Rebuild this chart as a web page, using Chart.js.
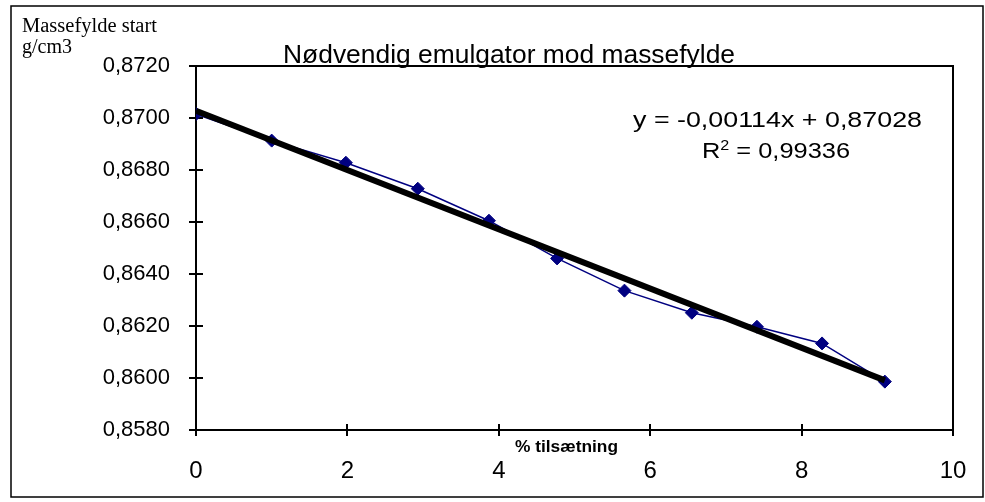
<!DOCTYPE html>
<html>
<head>
<meta charset="utf-8">
<script src="https://cdn.jsdelivr.net/npm/chart.js@4.4.1/dist/chart.umd.min.js"></script>
<style>
  html, body { margin: 0; padding: 0; background: #fff; }
  #chartContainer { width: 985px; height: 502px; }
</style>
</head>
<body>
<div id="chartContainer"><canvas id="emulgatorChart"></canvas></div>
<script>
// data
const tilsaetning = [0, 1.0, 1.98, 2.93, 3.87, 4.77, 5.66, 6.55, 7.41, 8.27, 9.10];
const massefylde = [0.87015, 0.86913, 0.86828, 0.86728, 0.86605, 0.86460, 0.86336, 0.86251, 0.86197, 0.86133, 0.85986];
const trendX = [0, 9.10];
const trendY = [0.87028, 0.85991];
const xTicks = [0, 2, 4, 6, 8, 10];
const yTicks = [0.858, 0.860, 0.862, 0.864, 0.866, 0.868, 0.870, 0.872];

const titleText = "Nødvendig emulgator mod massefylde";
const yTitle = ["Massefylde start", "g/cm3"];
const xTitle = "% tilsætning";
const equationText = "y = -0,00114x + 0,87028";
const r2Value = "0,99336";

const sans = "'Liberation Sans', Arial, sans-serif";
const serif = "'Liberation Serif', 'Times New Roman', serif";

Chart.defaults.font.family = sans;
Chart.defaults.color = "#000";

// draws text squeezed/stretched to a given width
function drawText(ctx, text, x, y, font, width) {
  ctx.save();
  ctx.font = font;
  const w = ctx.measureText(text).width;
  ctx.translate(x, y);
  ctx.scale(width ? width / w : 1, 1);
  ctx.textAlign = "left";
  ctx.textBaseline = "alphabetic";
  ctx.fillStyle = "#000";
  ctx.fillText(text, 0, 0);
  ctx.restore();
}

const framePlugin = {
  id: "frame",
  beforeDatasetsDraw(chart) {
    const ctx = chart.ctx;
    const a = chart.chartArea;
    const xs = chart.scales.x;
    const ys = chart.scales.y;
    ctx.save();
    ctx.strokeStyle = "#000";
    ctx.lineWidth = 2;
    ctx.strokeRect(a.left, a.top, a.right - a.left, a.bottom - a.top);
    ctx.beginPath();
    ys.ticks.forEach((t) => {
      const py = Math.round(ys.getPixelForValue(t.value));
      ctx.moveTo(a.left - 7, py);
      ctx.lineTo(a.left + 7, py);
    });
    xs.ticks.forEach((t) => {
      const px = Math.round(xs.getPixelForValue(t.value));
      ctx.moveTo(px, a.bottom - 6);
      ctx.lineTo(px, a.bottom + 6);
    });
    ctx.lineWidth = 2;
    ctx.stroke();
    ctx.restore();
  },
  afterDraw(chart) {
    const ctx = chart.ctx;
    ctx.save();
    // outer border
    ctx.strokeStyle = "#000";
    ctx.lineWidth = 1.5;
    ctx.strokeRect(11, 6, 972, 491);

    // title
    drawText(ctx, titleText, 283, 63, "25px " + sans, 452);

    // y axis title (top left)
    drawText(ctx, yTitle[0], 22, 32, "20px " + serif, 135);
    drawText(ctx, yTitle[1], 22, 53, "20px " + serif, 50);

    // x axis title
    drawText(ctx, xTitle, 515, 452, "bold 16px " + sans, 103);

    // trendline label
    drawText(ctx, equationText, 633, 127, "22px " + sans, 289);

    ctx.font = "22px " + sans;
    const wR = ctx.measureText("R").width;
    const rest = " = " + r2Value;
    const wRest = ctx.measureText(rest).width;
    ctx.font = "14px " + sans;
    const w2 = ctx.measureText("2").width;
    const sx = 148 / (wR + w2 + wRest);
    ctx.translate(702, 158);
    ctx.scale(sx, 1);
    ctx.fillStyle = "#000";
    ctx.textBaseline = "alphabetic";
    ctx.font = "22px " + sans;
    ctx.fillText("R", 0, 0);
    ctx.font = "14px " + sans;
    ctx.fillText("2", wR, -8);
    ctx.font = "22px " + sans;
    ctx.fillText(rest, wR + w2, 0);
    ctx.restore();
  },
};

const ctx = document.getElementById("emulgatorChart").getContext("2d");

window.chart = new Chart(ctx, {
  type: "scatter",
  data: {
    datasets: [
      {
        label: "Lineær",
        data: trendX.map((x, i) => ({ x: x, y: trendY[i] })),
        showLine: true,
        borderColor: "#000",
        borderWidth: 6,
        pointRadius: 0,
      },
      {
        label: "Massefylde",
        data: tilsaetning.map((x, i) => ({ x: x, y: massefylde[i] })),
        showLine: true,
        borderColor: "#000080",
        borderWidth: 1.5,
        pointStyle: "rectRot",
        pointRadius: 6.5,
        pointBackgroundColor: "#000080",
        pointBorderColor: "#000080",
        pointBorderWidth: 1,
      },
    ],
  },
  options: {
    responsive: true,
    maintainAspectRatio: false,
    animation: false,
    devicePixelRatio: 1,
    layout: {
      padding: { top: 66, right: 32, left: 0, bottom: 0 },
    },
    plugins: {
      legend: { display: false },
      tooltip: { enabled: false },
      title: { display: false },
    },
    scales: {
      x: {
        type: "linear",
        min: 0,
        max: 10,
        afterBuildTicks: (s) => {
          s.ticks = xTicks.map((v) => ({ value: v }));
        },
        afterFit: (s) => {
          s.height = 72;
          s.paddingLeft = 0;
          s.paddingRight = 0;
        },
        ticks: {
          font: { size: 24 },
          color: "#000",
          padding: 27,
          maxRotation: 0,
        },
        grid: { display: false, drawTicks: false },
        border: { display: false },
      },
      y: {
        type: "linear",
        min: 0.858,
        max: 0.872,
        afterBuildTicks: (s) => {
          s.ticks = yTicks.map((v) => ({ value: v }));
        },
        afterFit: (s) => {
          s.width = 196;
          s.paddingTop = 0;
          s.paddingBottom = 0;
        },
        ticks: {
          font: { size: 22 },
          color: "#000",
          padding: 26,
          callback: (v) => v.toFixed(4).replace(".", ","),
        },
        grid: { display: false, drawTicks: false },
        border: { display: false },
      },
    },
  },
  plugins: [framePlugin],
});
</script>
</body>
</html>
